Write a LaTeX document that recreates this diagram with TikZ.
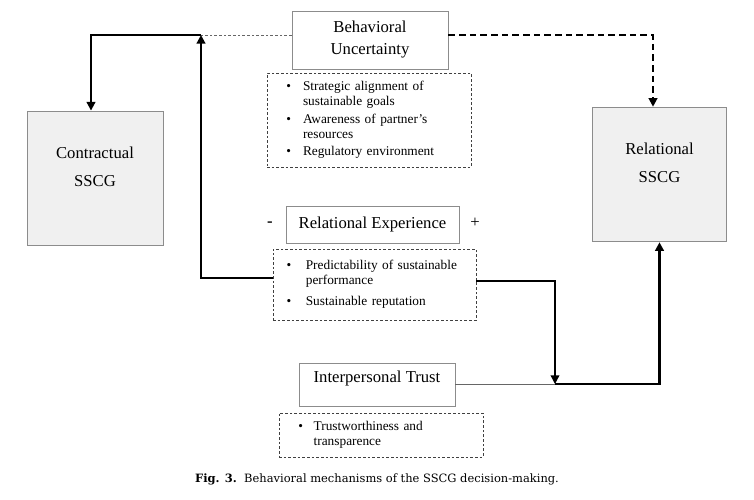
\documentclass[tikz,border=0pt]{standalone}
\usepackage{fontspec}
\setmainfont{Liberation Serif}
\newfontfamily\capfont{DejaVu Serif}
\usetikzlibrary{arrows, arrows.meta, positioning, calc}

\newcommand{\boxfont}{\fontsize{12.5}{16.5}\selectfont}
\newcommand{\listfont}{\fontsize{10}{11.5}\selectfont}

\tikzset{
    plainbox/.style={draw=gray!90, fill=white, line width=0.65pt, align=center, font=\boxfont, inner sep=0pt},
    sscgbox/.style={plainbox, fill=gray!12, text depth=17pt},
    listbox/.style={draw=black!75, dash pattern=on 2pt off 1.5pt, line width=0.5pt, align=left, font=\listfont, inner ysep=0pt},
    flow/.style={line width=1.5pt, >={Triangle[length=6.5pt,width=6.5pt]}},
    link/.style={line width=0.6pt, gray!80!black}
}

\begin{document}
\begin{tikzpicture}[x=0.75pt, y=-0.75pt]
    \useasboundingbox (0,0) rectangle (754,500);

    \node[plainbox, minimum width=117pt, minimum height=43.5pt] (bu) at (370,40) {Behavioral\\Uncertainty};
    \node[listbox, minimum height=70.5pt, text width=124pt, inner xsep=14.5pt] (bulist) at (369,120)
        {\begin{tabular}{@{}c@{\hspace{9pt}}l@{}}
         \textbullet & Strategic alignment of\\
                     & sustainable goals\\[1.5pt]
         \textbullet & Awareness of partner’s\\
                     & resources\\[1.5pt]
         \textbullet & Regulatory environment
         \end{tabular}};

    \node[sscgbox, minimum width=102pt, minimum height=100.5pt] (cs) at (95,178) {Contractual\\[4.5pt]SSCG};
    \node[sscgbox, minimum width=101pt, minimum height=101pt] (rs) at (659.5,174.5) {Relational\\[4.5pt]SSCG};

    \node[plainbox, minimum width=129.75pt, minimum height=27.75pt] (re) at (372.5,224.5) {Relational Experience};
    \node[font=\boxfont\bfseries] (minus) at (270,224) {-};
    \node[font=\boxfont] (plus) at (475,223) {+};
    \node[listbox, minimum height=53.25pt, text width=132pt, inner xsep=10.1pt] (relist) at (374.5,284.5)
        {\begin{tabular}{@{}c@{\hspace{11pt}}l@{}}
         \textbullet & Predictability of sustainable\\
                     & performance\\[4.5pt]
         \textbullet & Sustainable reputation
         \end{tabular}};

    \node[plainbox, minimum width=117pt, minimum height=32.25pt, text depth=12pt] (it) at (377,384.5) {Interpersonal Trust};
    \node[listbox, minimum height=33pt, text width=124pt, inner xsep=14.5pt] (itlist) at (381,435)
        {\begin{tabular}{@{}c@{\hspace{8pt}}l@{}}
         \textbullet & Trustworthiness and\\
                     & transparence
         \end{tabular}};

    \coordinate (jl) at (201,35);
    \coordinate (jr) at (653,35);
    \coordinate (lk) at (201,278);
    \coordinate (rk) at (555,281);
    \coordinate (bk) at (555,384);

    \draw[link, dash pattern=on 2pt off 1.5pt] (bu.west |- jl) -- (jl);
    \draw[flow, ->] (jl) -| ([xshift=-3pt]cs.north);
    \draw[flow, ->] (relist.west |- lk) -- (lk) -- (jl);
    \draw[flow, dash pattern=on 5pt off 3pt, ->] (bu.east |- jr) -- (jr) -- (rs.north -| jr);
    \draw[flow, line width=1pt, ->] (relist.east |- rk) -- (rk) -- (bk);
    \draw[link] (it.east |- bk) -- (bk);
    \draw[flow, line width=2pt, ->] (bk) -| (rs.south);

    \node[font=\capfont\fontsize{8.6}{10}\selectfont] (cap) at (377,479)
        {\textbf{Fig. 3.}\ \ Behavioral mechanisms of the SSCG decision-making.};
\end{tikzpicture}
\end{document}
